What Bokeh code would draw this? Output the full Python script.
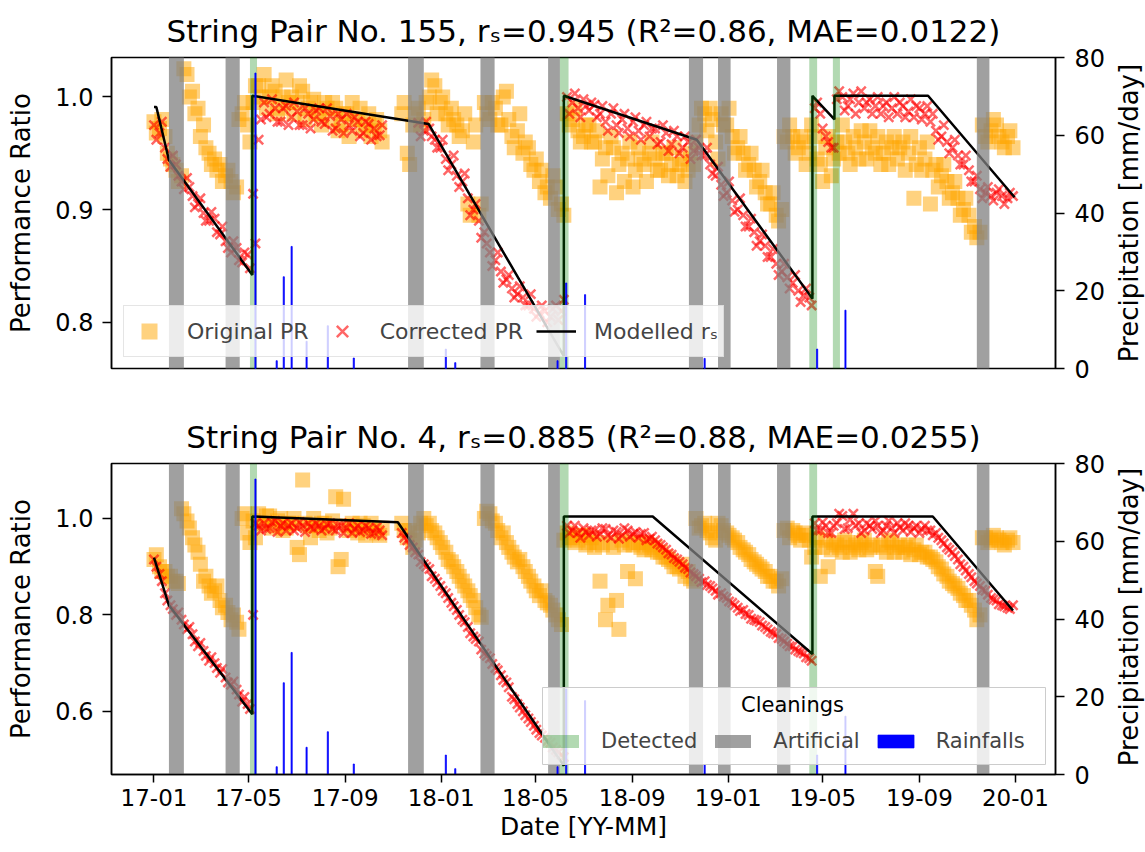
import numpy as np
import pandas as pd
from bokeh.plotting import figure
from bokeh.models import (Range1d, LinearAxis, FixedTicker, DatetimeTickFormatter,
                          PrintfTickFormatter, Legend, LegendItem, Label, BoxAnnotation)
from bokeh.core.properties import value
from bokeh.layouts import column, row
from bokeh.embed import file_html
from bokeh.resources import INLINE

FONT = "DejaVu Sans"

# ---------------------------------------------------------------- data
# performance ratio, sampled twice a week (series "a" from 2017-01-01, "b" from 2017-01-04)
start_a = "2017-01-01"
start_b = "2017-01-04"

orig_155_a = [
    0.978, 0.972, 0.965, 0.945, 0.935, 0.930, 1.020, 1.005, 0.990, 0.975,
    0.950, 0.945, 0.940, 0.930, 0.925, 0.920, 0.985, 0.975, 0.995, 1.010,
    1.020, 1.000, 1.005, 0.990, 1.015, 1.000, 0.995, 1.005, 0.990, 0.998,
    0.985, 0.995, 0.980, 0.990, 0.975, 0.985, 0.995, 0.980, 0.970, 0.985,
    0.975, 0.970, None, None, None, 0.985, 0.950, 0.975, 0.990, 0.980,
    1.000, 1.010, 0.995, 0.985, 0.990, 0.975, 0.970, 0.905, 0.960, 0.895,
    0.995, 0.980, 0.990, 0.975, 1.005, 0.965, 0.970, 0.950, 0.955, 0.935,
    0.925, 0.915, 0.910, 0.920, 0.905, 0.985, 0.980, 0.970, 0.965, 0.975,
    0.960, 0.920, 0.955, 0.965, 0.915, 0.950, 0.945, 0.920, 0.955, 0.940,
    0.950, 0.945, 0.935, 0.950, 0.940, 0.930, 0.945, 0.935, 0.940, 0.975,
    0.985, 0.990, 0.960, 0.985, 0.975, 0.965, 0.955, 0.950, 0.940, 0.935,
    0.925, 0.915, 0.905, 0.895, 0.900, 0.960, 0.965, 0.955, 0.960, 0.950,
    0.965, 0.940, 0.955, 0.930, 0.960, 0.975, 0.950, 0.965, 0.945, 0.960,
    0.970, 0.950, 0.940, 0.960, 0.955, 0.945, 0.960, 0.950, 0.910, 0.955,
    0.945, 0.905, 0.940, 0.930, 0.925, 0.915, 0.910, 0.900, 0.895, 0.885,
    0.880, 0.965, 0.970, 0.975, 0.960, 0.965, 0.955,
]
orig_155_b = [
    0.968, 0.980, 0.950, 0.940, 0.925, 1.025, 1.000, 0.985, 0.965, 0.955,
    0.940, 0.935, 0.925, 0.935, 0.915, 0.980, 0.995, 0.960, 1.010, 1.000,
    0.990, 1.010, 0.985, 1.000, 0.995, 0.985, 1.010, 0.980, 0.995, 0.985,
    0.975, 0.990, 0.995, 0.970, 0.985, 0.965, 0.980, 0.990, 0.975, 0.965,
    0.980, 0.960, None, None, None, 0.995, 0.940, 0.985, 0.975, 0.995,
    1.015, 0.985, 1.000, 0.975, 0.980, 0.965, 0.985, 0.895, 0.975, 0.905,
    0.985, 0.995, 0.975, 1.000, 0.980, 0.955, 0.985, 0.960, 0.940, 0.945,
    0.935, 0.920, 0.930, 0.900, 0.895, 0.975, 0.990, 0.960, 0.975, 0.960,
    0.970, 0.945, 0.930, 0.955, 0.940, 0.925, 0.960, 0.935, 0.945, 0.925,
    0.960, 0.935, 0.950, 0.930, 0.955, 0.940, 0.925, 0.950, 0.960, 0.990,
    0.970, 0.980, 0.945, 0.975, 0.990, 0.950, 0.965, 0.935, 0.950, 0.920,
    0.935, 0.905, 0.915, 0.890, 0.965, 0.975, 0.950, 0.965, 0.940, 0.975,
    0.945, 0.925, 0.965, 0.945, 0.950, 0.960, 0.940, 0.955, 0.970, 0.945,
    0.955, 0.965, 0.950, 0.940, 0.965, 0.955, 0.935, 0.965, 0.940, 0.935,
    0.960, 0.935, 0.920, 0.940, 0.910, 0.925, 0.895, 0.910, 0.880, 0.875,
    0.975, 0.960, 0.980, 0.965, 0.955, 0.970,
]
corr_155_a = [
    0.975, 0.968, 0.955, 0.938, 0.940, 0.925, 0.928, 0.912, 0.905, 0.897,
    0.890, 0.892, 0.878, 0.872, 0.862, 0.866, 0.853, 0.860, 0.914, 0.962,
    0.995, 0.985, 0.990, 0.978, 0.992, 0.982, 0.987, 0.975, 0.985, 0.980,
    0.990, 0.976, 0.983, 0.972, 0.980, 0.985, 0.970, 0.978, 0.968, 0.976,
    0.972, 0.966, None, None, None, None, None, None, 0.977, 0.970,
    0.972, 0.962, 0.955, 0.945, 0.940, 0.930, 0.925, 0.910, 0.900, 0.890,
    0.880, 0.862, 0.855, 0.845, 0.838, 0.830, 0.825, 0.822, 0.815, 0.812,
    0.808, 0.810, 0.805, 0.815, 0.810, 1.000, 0.995, 0.990, 0.998, 0.988,
    0.993, 0.985, 0.978, 0.985, 0.975, 0.980, 0.972, 0.978, 0.970, 0.975,
    0.965, 0.972, 0.960, 0.968, 0.958, 0.965, 0.955, 0.960, 0.952, 0.955,
    0.948, 0.940, 0.930, 0.922, 0.915, 0.908, 0.900, 0.895, 0.885, 0.880,
    0.872, 0.868, 0.858, 0.852, 0.845, 0.840, 0.835, 0.828, 0.824, 0.822,
    0.990, 0.985, 0.965, 0.955, 0.998, 1.000, 0.992, 1.003, 0.995, 0.990,
    0.998, 0.992, 0.985, 0.995, 0.990, 0.985, 0.992, 0.987, 0.982, 0.990,
    0.985, 0.978, 0.970, 0.965, 0.960, 0.955, 0.948, 0.940, 0.935, 0.925,
    0.918, 0.915, 0.912, 0.915, 0.912, 0.910, 0.912,
]
corr_155_b = [
    0.962, 0.978, 0.945, 0.948, 0.930, 0.918, 0.920, 0.902, 0.910, 0.890,
    0.898, 0.880, 0.885, 0.866, 0.872, 0.855, 0.862, 0.848, 0.870, 0.980,
    0.982, 0.998, 0.978, 0.990, 0.975, 0.995, 0.975, 0.990, 0.972, 0.988,
    0.978, 0.990, 0.970, 0.985, 0.968, 0.975, 0.982, 0.965, 0.978, 0.962,
    0.965, 0.975, None, None, None, None, None, None, 0.965, 0.978,
    0.965, 0.955, 0.962, 0.935, 0.948, 0.920, 0.932, 0.895, 0.905, 0.875,
    0.870, 0.850, 0.862, 0.835, 0.842, 0.822, 0.832, 0.815, 0.825, 0.805,
    0.815, 0.800, 0.812, 0.802, 0.820, 0.985, 1.003, 0.982, 0.992, 0.995,
    0.982, 0.992, 0.970, 0.990, 0.968, 0.985, 0.965, 0.982, 0.962, 0.978,
    0.972, 0.958, 0.975, 0.952, 0.970, 0.950, 0.965, 0.945, 0.962, 0.948,
    0.955, 0.932, 0.938, 0.912, 0.925, 0.898, 0.910, 0.885, 0.892, 0.868,
    0.878, 0.858, 0.865, 0.842, 0.852, 0.830, 0.842, 0.818, 0.830, 0.815,
    0.995, 0.972, 0.960, 0.955, 1.005, 0.988, 0.998, 0.985, 1.005, 0.995,
    0.985, 1.000, 0.992, 0.982, 1.000, 0.995, 0.982, 0.998, 0.992, 0.980,
    0.992, 0.985, 0.962, 0.975, 0.950, 0.962, 0.940, 0.948, 0.925, 0.930,
    0.910, 0.920, 0.908, 0.918, 0.905, 0.915,
]
orig_4_a = [
    0.915, 0.900, 0.890, 0.880, 0.870, 1.020, 0.995, 0.960, 0.930, 0.870,
    0.860, 0.850, 0.830, 0.820, 0.790, 0.785, 1.000, 0.970, 0.995, 1.010,
    0.990, 1.005, 0.985, 1.000, 0.980, 0.990, 0.940, 1.080, 0.985, 1.000,
    0.975, 0.990, 0.980, 1.045, 0.915, 0.985, 0.990, 0.970, 0.985, 0.975,
    0.980, 0.965, None, None, None, 0.990, 0.960, 0.940, 0.970, 1.000,
    0.990, 0.970, 0.950, 0.930, 0.910, 0.890, 0.870, 0.850, 0.830, 0.800,
    1.000, 1.010, 0.990, 0.960, 0.950, 0.930, 0.910, 0.900, 0.880, 0.860,
    0.840, 0.830, 0.820, 0.800, 0.780, 0.970, 0.960, 0.955, 0.965, 0.950,
    0.940, 0.870, 0.790, 0.950, 0.830, 0.955, 0.890, 0.945, 0.950, 0.935,
    0.945, 0.940, 0.930, 0.920, 0.910, 0.900, 0.905, 0.890, 0.870, 0.980,
    0.990, 0.970, 0.955, 0.985, 0.970, 0.960, 0.950, 0.935, 0.925, 0.910,
    0.900, 0.890, 0.880, 0.870, 0.875, 0.980, 0.975, 0.965, 0.970, 0.955,
    0.940, 0.880, 0.955, 0.935, 0.945, 0.930, 0.950, 0.940, 0.935, 0.955,
    0.940, 0.890, 0.945, 0.930, 0.950, 0.940, 0.930, 0.945, 0.935, 0.925,
    0.930, 0.920, 0.910, 0.895, 0.880, 0.865, 0.855, 0.840, 0.830, 0.810,
    0.800, 0.960, 0.955, 0.960, 0.950, 0.955, 0.950,
]
orig_4_b = [
    0.925, 0.890, 0.880, 0.870, 0.865, 1.010, 0.980, 0.945, 0.905, 0.880,
    0.845, 0.860, 0.815, 0.805, 0.800, 0.770, 1.010, 0.950, 0.960, 0.990,
    1.005, 0.980, 0.995, 0.975, 0.990, 1.000, 0.925, 0.990, 0.960, 0.985,
    0.990, 0.970, 0.995, 0.900, 1.040, 0.975, 0.980, 0.990, 0.965, 0.990,
    0.970, 0.980, None, None, None, 0.975, 0.975, 0.955, 0.990, 0.985,
    0.975, 0.960, 0.940, 0.915, 0.900, 0.880, 0.860, 0.840, 0.815, 0.795,
    1.015, 0.995, 0.975, 0.970, 0.940, 0.920, 0.915, 0.890, 0.870, 0.850,
    0.850, 0.825, 0.810, 0.790, 0.955, 0.960, 0.950, 0.965, 0.945, 0.960,
    0.950, 0.945, 0.820, 0.940, 0.770, 0.945, 0.950, 0.875, 0.940, 0.950,
    0.935, 0.930, 0.920, 0.915, 0.900, 0.895, 0.880, 0.875, 1.000, 0.985,
    0.975, 0.960, 0.990, 0.975, 0.965, 0.955, 0.940, 0.930, 0.915, 0.905,
    0.895, 0.880, 0.870, 0.860, 0.975, 0.960, 0.970, 0.955, 0.965, 0.920,
    0.960, 0.940, 0.900, 0.950, 0.940, 0.955, 0.930, 0.945, 0.950, 0.935,
    0.945, 0.880, 0.940, 0.955, 0.930, 0.945, 0.940, 0.925, 0.945, 0.930,
    0.920, 0.915, 0.900, 0.885, 0.870, 0.860, 0.845, 0.830, 0.820, 0.790,
    0.960, 0.950, 0.965, 0.955, 0.945, 0.960,
]
corr_4_a = [
    0.915, 0.885, 0.845, 0.820, 0.800, 0.790, 0.770, 0.760, 0.735, 0.725,
    0.705, 0.700, 0.680, 0.670, 0.655, 0.645, 0.620, 0.615, 0.800, 0.985,
    0.990, 0.980, 0.995, 0.985, 0.975, 0.990, 0.980, 0.985, 0.990, 0.978,
    0.985, 0.980, 0.990, 0.975, 0.985, 0.980, 0.970, 0.985, 0.975, 0.980,
    0.970, 0.975, None, None, None, 0.970, 0.955, 0.940, 0.925, 0.905,
    0.895, 0.875, 0.860, 0.845, 0.825, 0.810, 0.790, 0.775, 0.755, 0.745,
    0.720, 0.710, 0.690, 0.675, 0.660, 0.630, 0.615, 0.600, 0.585, 0.570,
    0.555, 0.545, 0.535, 0.520, 0.510, 0.985, 0.975, 0.970, 0.980, 0.965,
    0.975, 0.968, 0.978, 0.960, 0.972, 0.965, 0.975, 0.968, 0.960, 0.970,
    0.958, 0.955, 0.945, 0.935, 0.925, 0.915, 0.905, 0.895, 0.885, 0.875,
    0.870, 0.860, 0.850, 0.845, 0.835, 0.825, 0.815, 0.810, 0.800, 0.790,
    0.785, 0.775, 0.765, 0.760, 0.750, 0.740, 0.735, 0.725, 0.720, 0.710,
    0.990, 0.975, 0.985, 0.970, 0.990, 1.005, 0.980, 1.010, 0.990, 0.975,
    0.985, 0.995, 0.970, 0.985, 0.980, 0.990, 0.975, 0.985, 0.980, 0.970,
    0.985, 0.975, 0.970, 0.955, 0.940, 0.930, 0.915, 0.900, 0.885, 0.870,
    0.860, 0.850, 0.835, 0.830, 0.820, 0.815, 0.820,
]
corr_4_b = [
    0.900, 0.870, 0.830, 0.812, 0.805, 0.780, 0.775, 0.745, 0.742, 0.715,
    0.712, 0.690, 0.688, 0.660, 0.662, 0.635, 0.630, 0.605, 0.990, 0.975,
    0.978, 0.992, 0.972, 0.990, 0.985, 0.975, 0.992, 0.972, 0.982, 0.990,
    0.975, 0.988, 0.978, 0.985, 0.970, 0.990, 0.978, 0.972, 0.985, 0.968,
    0.982, 0.965, None, None, None, 0.960, 0.945, 0.930, 0.910, 0.900,
    0.880, 0.868, 0.850, 0.835, 0.818, 0.800, 0.785, 0.762, 0.750, 0.728,
    0.715, 0.698, 0.685, 0.665, 0.650, 0.625, 0.608, 0.592, 0.578, 0.562,
    0.550, 0.538, 0.525, 0.515, 0.505, 0.970, 0.985, 0.960, 0.972, 0.975,
    0.962, 0.980, 0.965, 0.975, 0.958, 0.980, 0.962, 0.972, 0.968, 0.955,
    0.962, 0.948, 0.940, 0.928, 0.918, 0.910, 0.898, 0.888, 0.880, 0.868,
    0.862, 0.855, 0.842, 0.838, 0.828, 0.820, 0.808, 0.802, 0.792, 0.788,
    0.778, 0.770, 0.762, 0.752, 0.745, 0.735, 0.728, 0.722, 0.712, 0.705,
    0.975, 0.992, 0.970, 0.985, 1.010, 0.978, 0.998, 0.985, 0.970, 0.990,
    0.978, 0.985, 0.975, 0.995, 0.970, 0.982, 0.990, 0.972, 0.985, 0.978,
    0.975, 0.965, 0.960, 0.948, 0.935, 0.922, 0.905, 0.892, 0.878, 0.865,
    0.852, 0.842, 0.832, 0.822, 0.818, 0.812,
]

# modelled soiling ratio (piecewise linear)
model_155_dates = ["2017-01-01", "2017-01-04", "2017-01-20", "2017-05-06", "2017-05-06",
                   "2017-12-16", "2018-06-06", "2018-06-06", "2018-11-22", "2019-04-18",
                   "2019-04-18", "2019-05-16", "2019-05-16", "2019-09-12", "2019-12-31"]
model_155_vals = [0.991, 0.991, 0.944, 0.842, 1.001,
                  0.976, 0.770, 1.001, 0.962, 0.821,
                  1.001, 0.980, 1.001, 1.001, 0.911]
model_4_dates = ["2017-01-01", "2017-01-20", "2017-05-06", "2017-05-06", "2017-11-07",
                 "2018-06-06", "2018-06-06", "2018-09-27", "2019-04-18", "2019-04-18",
                 "2019-09-18", "2019-12-29"]
model_4_vals = [0.919, 0.820, 0.594, 1.004, 0.992,
                0.487, 1.004, 1.004, 0.719, 1.004,
                1.004, 0.809]

# cleanings
artificial_start = ["2017-01-20", "2017-04-02", "2017-11-20", "2018-02-20", "2018-05-17",
                    "2018-11-12", "2018-12-19", "2019-03-04", "2019-11-13"]
artificial_end = ["2017-02-08", "2017-04-20", "2017-12-10", "2018-03-10", "2018-06-01",
                  "2018-11-30", "2019-01-04", "2019-03-21", "2019-11-29"]
detected_155_start = ["2017-05-03", "2018-06-01", "2019-04-14", "2019-05-14"]
detected_155_end = ["2017-05-12", "2018-06-12", "2019-04-24", "2019-05-23"]
detected_4_start = ["2017-05-03", "2018-06-01", "2019-04-14"]
detected_4_end = ["2017-05-12", "2018-06-12", "2019-04-24"]

# rainfall [mm/day]
rain_dates = ["2017-05-10", "2017-06-06", "2017-06-15", "2017-06-25", "2017-07-14",
              "2017-08-10", "2017-09-12", "2018-01-07", "2018-01-19", "2018-05-29",
              "2018-06-09", "2018-07-03", "2018-12-02", "2019-04-24", "2019-05-30"]
rain_mm = [76, 2, 23.6, 31.4, 7,
           11, 2.7, 5, 1.5, 2,
           22, 19, 2.6, 5, 15]

date_ticks = ["2017-01-01", "2017-05-01", "2017-09-01", "2018-01-01", "2018-05-01",
              "2018-09-01", "2019-01-01", "2019-05-01", "2019-09-01", "2020-01-01"]
pr_ticks_155 = [0.8, 0.9, 1.0]
pr_ticks_4 = [0.6, 0.8, 1.0]
rain_ticks = [0, 20, 40, 60, 80]

title_155 = "String Pair No. 155, r\u209b=0.945 (R\u00b2=0.86, MAE=0.0122)"
title_4 = "String Pair No. 4, r\u209b=0.885 (R\u00b2=0.88, MAE=0.0255)"
rain_label = "Precipitation [mm/day]"

# ---------------------------------------------------------------- helpers
X_START = pd.Timestamp("2016-11-08")
X_END = pd.Timestamp("2020-02-21")
DAY_MS = 86400000
FRAME_W, FRAME_H = 944, 311
LEFT_B, RIGHT_B = 111, 50
TOP1, BOT1, TOP2, BOT2 = 57, 40, 53, 79


def weekly(start, vals):
    d = pd.date_range(start, periods=len(vals), freq="7D")
    return d, np.array(vals, dtype=float)


def two_series(start1, v1, start2, v2):
    d1, a1 = weekly(start1, v1)
    d2, a2 = weekly(start2, v2)
    return d1.append(d2), np.concatenate([a1, a2])


def to_ms(ds):
    return [pd.Timestamp(d).value // 10**6 for d in ds]


def style_axis(ax, tick_size="24px", label_size="26px"):
    ax.major_label_text_font = FONT
    ax.major_label_text_font_size = tick_size
    ax.axis_label_text_font = FONT
    ax.axis_label_text_font_size = label_size
    ax.axis_label_text_font_style = "normal"
    ax.axis_label_text_color = "black"
    ax.major_label_text_color = "black"
    ax.axis_line_color = "black"
    ax.axis_line_width = 1.5
    ax.major_tick_line_color = "black"
    ax.major_tick_line_width = 1.5
    ax.major_tick_out = 9
    ax.major_tick_in = 0
    ax.minor_tick_line_color = None


def make_panel(title, orig, corr, mdates, mvals, det_start, det_end, yrange, yticks,
               top_border, bottom_border, show_x, glyph_level):
    p = figure(x_axis_type="datetime",
               x_range=Range1d(X_START, X_END),
               y_range=Range1d(*yrange),
               frame_width=FRAME_W, frame_height=FRAME_H,
               min_border_left=LEFT_B, min_border_right=RIGHT_B,
               min_border_top=top_border, min_border_bottom=bottom_border,
               x_axis_location="below" if show_x else None,
               toolbar_location=None, output_backend="svg",
               background_fill_color="white", border_fill_color="white",
               title=title)
    p.title.text_font = FONT
    p.title.text_font_size = "31px"
    p.title.text_font_style = "normal"
    p.title.align = "center"
    p.title.text_color = "black"
    p.title.standoff = 17
    p.grid.visible = False
    p.outline_line_color = "black"
    p.outline_line_width = 1.5
    p.outline_line_alpha = 1.0

    p.extra_y_ranges = {"rain": Range1d(0, 80)}

    xo, yo = orig
    xc, yc = corr
    r_orig = p.scatter(xo, yo, marker="square", size=15,
                       fill_color="orange", fill_alpha=0.5, line_color=None)
    r_corr = p.scatter(xc, yc, marker="x", size=13,
                       line_color="red", line_alpha=0.6, line_width=2.5)
    r_line = p.line(pd.to_datetime(mdates), mvals, line_color="black", line_width=2.5)

    r_grey = p.quad(left=pd.to_datetime(artificial_start), right=pd.to_datetime(artificial_end),
                    bottom=0, top=80, y_range_name="rain", fill_color="grey", fill_alpha=0.75,
                    line_color=None, level=glyph_level)
    r_green = p.quad(left=pd.to_datetime(det_start), right=pd.to_datetime(det_end),
                     bottom=0, top=80, y_range_name="rain", fill_color="green", fill_alpha=0.3,
                     line_color=None, level=glyph_level)
    r_rain = p.vbar(x=pd.to_datetime(rain_dates), top=rain_mm, bottom=0, width=1.4 * DAY_MS,
                    y_range_name="rain", fill_color="blue", line_color="blue", line_width=0.8,
                    level=glyph_level)

    yax = p.yaxis[0]
    yax.ticker = FixedTicker(ticks=yticks)
    yax.formatter = PrintfTickFormatter(format="%.1f")
    yax.axis_label = "Performance Ratio"
    style_axis(yax)
    yax.major_label_standoff = 9
    yax.axis_label_standoff = 16

    rax = LinearAxis(y_range_name="rain", ticker=FixedTicker(ticks=rain_ticks))
    style_axis(rax)
    rax.major_label_standoff = 10
    p.add_layout(rax, "right")

    if show_x:
        xax = p.xaxis[0]
        xax.ticker = FixedTicker(ticks=to_ms(date_ticks))
        xax.formatter = DatetimeTickFormatter(days="%y-%m", months="%y-%m", years="%y-%m")
        xax.axis_label = "Date [YY-MM]"
        style_axis(xax, tick_size="23px", label_size="25px")
        xax.major_tick_out = 8
        xax.major_label_standoff = 6
        xax.axis_label_standoff = 3

    return p, r_orig, r_corr, r_line, r_grey, r_green, r_rain


# ---------------------------------------------------------------- top panel
p1, o1, c1, l1, _, _, _ = make_panel(title_155,
                                     two_series(start_a, orig_155_a, start_b, orig_155_b),
                                     two_series(start_a, corr_155_a, start_b, corr_155_b),
                                     model_155_dates, model_155_vals,
                                     detected_155_start, detected_155_end,
                                     (0.759, 1.035), pr_ticks_155, TOP1, BOT1, False, "overlay")
leg1 = Legend(items=[LegendItem(label="Original PR", renderers=[o1]),
                     LegendItem(label="Corrected PR", renderers=[c1]),
                     LegendItem(label="Modelled r\u209b", renderers=[l1])],
              location=(12, 11), orientation="horizontal",
              glyph_width=40, glyph_height=40, padding=5, label_standoff=18, spacing=13,
              label_text_font=FONT, label_text_font_size="22px",
              background_fill_color="white", background_fill_alpha=0.8,
              border_line_color="#cccccc", border_line_width=1)
p1.add_layout(leg1)

# ---------------------------------------------------------------- bottom panel
p2, o2, c2, l2, g2, gr2, rn2 = make_panel(title_4,
                                          two_series(start_a, orig_4_a, start_b, orig_4_b),
                                          two_series(start_a, corr_4_a, start_b, corr_4_b),
                                          model_4_dates, model_4_vals,
                                          detected_4_start, detected_4_end,
                                          (0.469, 1.114), pr_ticks_4, TOP2, BOT2, True, "glyph")
# legend box + title drawn underneath a transparent legend
p2.add_layout(BoxAnnotation(left=431, right=934, bottom=10, top=87,
                            left_units="screen", right_units="screen",
                            bottom_units="screen", top_units="screen",
                            fill_color="white", fill_alpha=0.8,
                            line_color="#cccccc", line_width=1, line_alpha=1.0))
p2.add_layout(Label(x=681, y=70, x_units="screen", y_units="screen", text="Cleanings",
                    text_align="center", text_baseline="middle",
                    text_font=FONT, text_font_size="21px", text_color="black"))
leg2 = Legend(items=[LegendItem(label="Detected", renderers=[gr2]),
                     LegendItem(label="Artificial", renderers=[g2]),
                     LegendItem(label="Rainfalls", renderers=[rn2])],
              location=(427, 21), orientation="horizontal",
              title=" ", title_text_font=FONT, title_text_font_size="22px", title_standoff=8,
              glyph_width=45, glyph_height=16, padding=9, label_standoff=18, spacing=13,
              label_text_font=FONT, label_text_font_size="21px",
              background_fill_alpha=0.0, border_line_color=None)
p2.add_layout(leg2)

# ---------------------------------------------------------------- right-hand axis titles
total_h = (TOP1 + FRAME_H + BOT1) + (TOP2 + FRAME_H + BOT2)
lab_w = 39
pl = figure(width=lab_w, height=total_h, x_range=Range1d(0, lab_w), y_range=Range1d(0, total_h),
            min_border=0, x_axis_location=None, y_axis_location=None,
            toolbar_location=None, output_backend="svg", outline_line_color=None,
            background_fill_color="white", border_fill_color="white")
pl.grid.visible = False
centres = [total_h - (TOP1 + FRAME_H / 2),
           total_h - (TOP1 + FRAME_H + BOT1 + TOP2 + FRAME_H / 2)]
pl.text(x=[20, 20], y=centres, text=[rain_label, rain_label], angle=np.pi / 2,
        text_align="center", text_baseline="middle",
        text_font=value(FONT), text_font_size="26px", text_color="black")

layout = row(column(p1, p2), pl)
open("out.html", "w").write(file_html(layout, INLINE, title="PR"))
